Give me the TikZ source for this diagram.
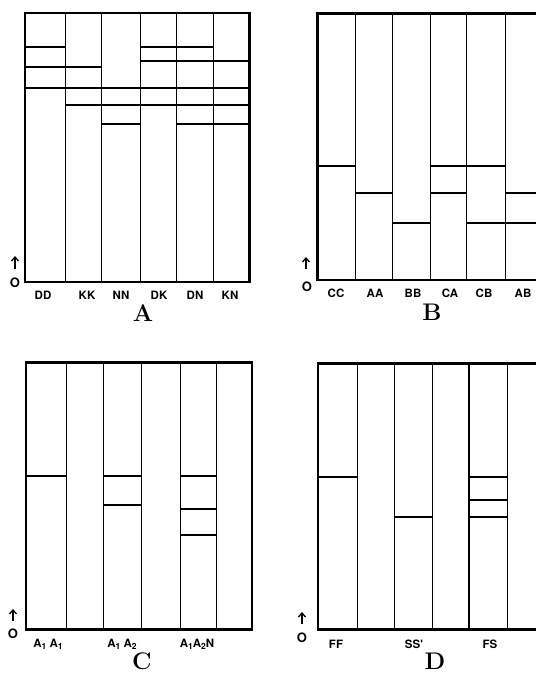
\documentclass[tikz,border=0pt]{standalone}
\usepackage{fontspec}
\newfontfamily\heros{TeX Gyre Heros}
\usetikzlibrary{arrows.meta}

\newcommand{\sub}[1]{\raisebox{-0.3ex}{\fontsize{8.5}{9}\selectfont #1}}

\begin{document}
\begin{tikzpicture}[
    x=1pt, y=-1pt,
    frame/.style={line width=2.6pt},
    lane/.style={line width=0.8pt},
    band/.style={line width=1.8pt},
    lbl/.style={font=\heros\bfseries\fontsize{11.5}{12}\selectfont, inner sep=0pt},
    zero/.style={font=\heros\bfseries\fontsize{13}{13}\selectfont, inner sep=0pt},
    title/.style={font=\rmfamily\bfseries\fontsize{24}{24}\selectfont, inner sep=0pt},
    up/.style={-{Straight Barb[length=4pt,width=7pt]}, line width=1.3pt}
]
\useasboundingbox (0,0) rectangle (536,673);
\clip (0,0) rectangle (536,673);

% Panel A
\draw[frame] (25,13) rectangle (249.3,282);
\foreach \xx in {65,101.7,140,176.7,213.3}
    \draw[lane] (\xx,13) -- (\xx,282);
\foreach \yy/\xa/\xb in {46.7/25/65, 46.7/140/213.3, 61/140/249.3, 66.7/25/101.7,
                         88.3/25/249.3, 105/65/249.3, 124/101.7/140, 124/176.7/249.3}
    \draw[band] (\xa,\yy) -- (\xb,\yy);
\node[zero] (oA) at (15,283) {O};
\coordinate (aBase) at (15,269);
\coordinate (aTip) at (15,256);
\draw[up] (aBase) -- (aTip);
\node[lbl] (dd) at (43,295) {DD};
\node[lbl] (kk) at (87,295) {KK};
\node[lbl] (nn) at (121,295) {NN};
\node[lbl] (dk) at (159,295) {DK};
\node[lbl] (dn) at (195,295) {DN};
\node[lbl] (kn) at (230,295) {KN};
\node[title] (tA) at (143,313) {A};

% Panel B
\draw[frame] (317.3,13.3) rectangle (543,280);
\foreach \xx in {355.3,392,430.3,466.3,505.3}
    \draw[lane] (\xx,13.3) -- (\xx,280);
\foreach \yy/\xa/\xb in {165.7/317.3/355.3, 165.7/430.3/505.3, 193.3/355.3/392,
                         193.3/430.3/466.3, 193.3/505.3/543, 223.3/392/430.3, 223.3/466.3/543}
    \draw[band] (\xa,\yy) -- (\xb,\yy);
\node[zero] (oB) at (307,287) {O};
\coordinate (bBase) at (306,269);
\coordinate (bTip) at (306,257);
\draw[up] (bBase) -- (bTip);
\node[lbl] (cc) at (336,293) {CC};
\node[lbl] (aa) at (375,293) {AA};
\node[lbl] (bb) at (413,293) {BB};
\node[lbl] (ca) at (450,293) {CA};
\node[lbl] (cb) at (484,293) {CB};
\node[lbl] (ab) at (523,293) {AB};
\node[title] (tB) at (432,312) {B};

% Panel C
\draw[frame] (26,362.7) rectangle (252,629.3);
\foreach \xx in {66.7,103.3,141.7,180,216}
    \draw[lane] (\xx,362.7) -- (\xx,629.3);
\foreach \yy/\xa/\xb in {476/26/66.7, 476/103.3/141.7, 476/180/216,
                         505.3/103.3/141.7, 508.7/180/216, 535.3/180/216}
    \draw[band] (\xa,\yy) -- (\xb,\yy);
\node[zero] (oC) at (13,634) {O};
\coordinate (cBase) at (13,621);
\coordinate (cTip) at (13,609);
\draw[up] (cBase) -- (cTip);
\node[lbl] (aone) at (48,644) {A\sub{1} A\sub{1}};
\node[lbl] (atwo) at (122,644) {A\sub{1} A\sub{2}};
\node[lbl] (anul) at (197,644) {A\sub{1}A\sub{2}N};
\node[title] (tC) at (142,661) {C};

% Panel D
\draw[frame] (318,363.3) rectangle (545,629.3);
\foreach \xx in {357,394.7,432.3,507.3}
    \draw[lane] (\xx,363.3) -- (\xx,629.3);
\draw[line width=1.6pt] (469,363.3) -- (469,629.3);
\foreach \yy/\xa/\xb in {476.7/318/357, 476.7/469/507.3,
                         517/394.7/432.3, 517/469/507.3}
    \draw[band] (\xa,\yy) -- (\xb,\yy);
\draw[band, line width=2.4pt] (469,500) -- (507.3,500);
\node[zero] (oD) at (302,637.5) {O};
\coordinate (dBase) at (302,624);
\coordinate (dTip) at (302,612);
\draw[up] (dBase) -- (dTip);
\node[lbl] (ff) at (336,644) {FF};
\node[lbl] (ss) at (414,644) {SS'};
\node[lbl] (fs) at (490,644) {FS};
\node[title] (tD) at (435,661) {D};

\end{tikzpicture}
\end{document}
